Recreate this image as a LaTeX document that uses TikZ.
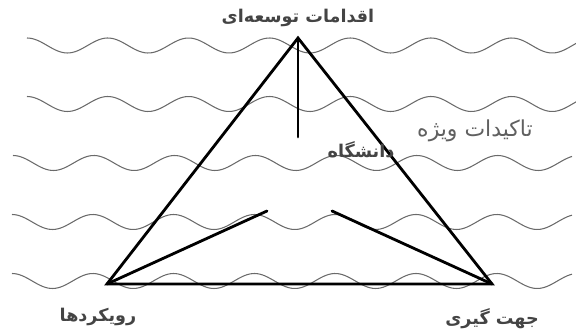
\documentclass[tikz,border=0pt]{standalone}
\usepackage{fontspec}
\usepackage{tikz}
\TeXXeTstate=1
\newfontfamily\arabicfont[Script=Arabic]{DejaVu Sans}
\definecolor{inkgray}{HTML}{444444}
\definecolor{wavegray}{HTML}{6A6A6A}

\begin{document}
\begin{tikzpicture}[
  x=0.02cm, y=-0.02cm,
  wave/.style={draw=wavegray,line width=0.6pt},
  edge/.style={draw=black,line width=1.6pt,line cap=round,line join=miter},
  lbl/.style={font=\arabicfont\bfseries\fontsize{10}{12}\selectfont,text=inkgray,inner sep=0pt},
  soft/.style={font=\arabicfont\fontsize{12.5}{14}\selectfont,text=inkgray!85,inner sep=0pt},
]
\useasboundingbox (0,0) rectangle (576,334);

% background waves
\foreach \yc/\xs/\xe in {45.5/27/576, 104/27/576, 163/13/572, 222/12/572, 281/12/572}
  \draw[wave] plot[domain=\xs:\xe,samples=220,smooth] (\x,{\yc-7.5*cos(4.4554*(\x-\xs))});

% corners of the triangle
\coordinate (apex) at (298,38);
\coordinate (left) at (107,284);
\coordinate (right) at (492,284);
\coordinate (stem) at (298,137);
\coordinate (innerL) at (267,211);
\coordinate (innerR) at (332,211);

\draw[edge] (left) -- (apex) -- (right) -- cycle;
\draw[edge] (apex) -- (stem);
\draw[edge] (left) -- (innerL);
\draw[edge] (right) -- (innerR);

% labels
\node[lbl] (top) at (298,18) {\beginR اقدامات توسعه‌ای\endR};
\node[soft] (focus) at (475,131) {\beginR تاکیدات ویژه\endR};
\node[lbl] (uni) at (361,150) {\beginR دانشگاه\endR};
\node[lbl] (approach) at (98,317) {\beginR رویکردها\endR};
\node[lbl] (orient) at (492,319) {\beginR جهت گیری\endR};
\end{tikzpicture}
\end{document}
